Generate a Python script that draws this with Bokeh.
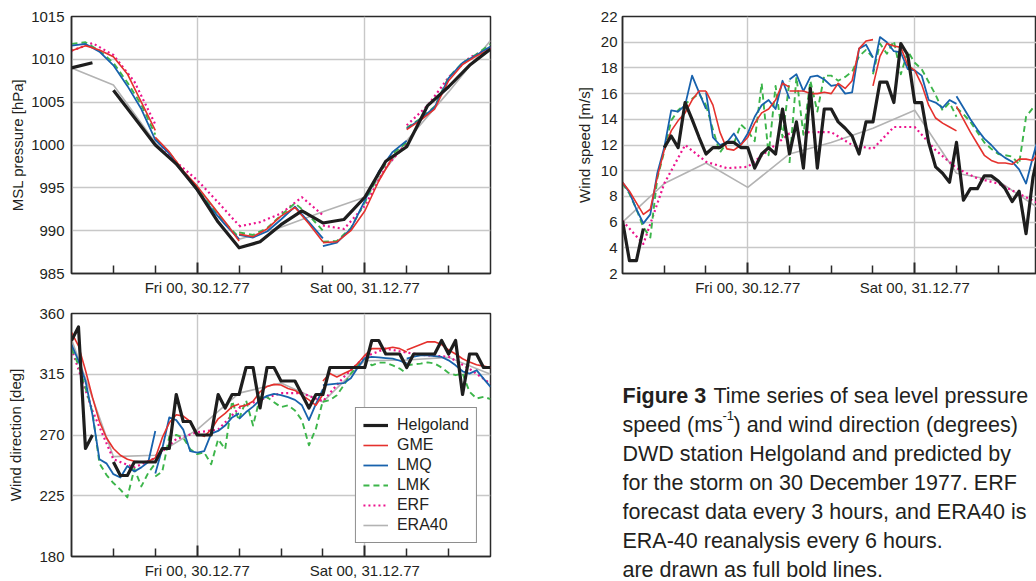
import numpy as np
from bokeh.plotting import figure
from bokeh.models import Range1d, FixedTicker, Legend, LegendItem
from bokeh.layouts import row, column
from bokeh.embed import file_html
from bokeh.resources import INLINE
from bokeh.core.properties import value

FONT = "Liberation Sans"
INK = "#231f20"

# ---------------- data ----------------
# time axis: hours since Thu 29.12.77 06 UTC (0 .. 60)
x_tick_hours = [18, 42]
x_tick_labels = ["Fri 00, 30.12.77", "Sat 00, 31.12.77"]
x_minor_hours = [6, 12, 24, 30, 36, 48, 54]
run_starts = [0, 12, 24, 36, 48]          # start of each forecast run

series_names = ["Helgoland", "GME", "LMQ", "LMK", "ERF", "ERA40"]

# --- MSL pressure [hPa] ---
p_ticks = [985, 990, 995, 1000, 1005, 1010, 1015]
helgoland_p_t = [0, 3, 4.5, 6, 9, 12, 15, 18, 21, 24, 27, 30, 33, 36, 39, 42, 45, 48, 51, 54, 57, 60]
helgoland_p = [1009.0, 1009.6, np.nan, 1006.4, 1003.2, 1000.0, 997.8, 994.8, 991.0, 988.0, 988.7,
               990.7, 992.3, 990.9, 991.3, 993.9, 998.1, 999.8, 1004.6, 1006.8, 1009.3, 1011.2]
era40_p = [1009.0, 1007.0, 1000.3, 995.0, 989.0, 990.4, 992.2, 993.9, 1000.5, 1006.2, 1012.2]
gme_p = [[1011.0, 1011.6, 1011.1, 1010.3, 1008.3, 1005.0, 1001.7],
         [1000.9, 999.2, 997.0, 995.2, 993.1, 991.0, 988.8],
         [989.6, 989.3, 990.2, 991.7, 992.7, 990.8, 988.7],
         [988.6, 988.7, 990.0, 992.3, 995.8, 998.6, 999.8],
         [1001.8, 1002.9, 1004.2, 1007.5, 1009.4, 1010.4, 1011.2]]
lmq_p = [[1011.6, 1011.8, 1010.9, 1009.3, 1006.9, 1004.2, 1000.6],
         [1000.6, 999.0, 996.8, 994.7, 992.6, 990.7, 989.0],
         [989.5, 989.2, 989.9, 991.3, 992.8, 991.0, 989.1],
         [988.2, 988.6, 990.2, 993.5, 996.9, 999.2, 1000.5],
         [1001.9, 1003.0, 1004.4, 1007.8, 1009.6, 1010.5, 1011.5]]
lmk_p = [[1011.8, 1012.0, 1011.0, 1009.6, 1007.3, 1004.7, 1001.2],
         [1000.7, 999.1, 996.9, 994.9, 992.8, 990.9, 989.2],
         [989.8, 989.5, 990.3, 991.8, 993.2, 991.8, 990.0],
         [988.7, 988.8, 990.3, 993.3, 996.6, 999.0, 1000.3],
         [1002.0, 1003.1, 1004.5, 1007.9, 1009.6, 1010.6, 1011.8]]
erf_p = [[1011.0, 1011.9, 1010.5, 1007.4, 1002.4],
         [1000.7, 998.0, 995.9, 993.3, 990.6],
         [990.5, 991.0, 992.0, 993.9, 991.8],
         [990.6, 990.2, 992.9, 997.4, 1000.2],
         [1002.3, 1004.6, 1007.9, 1010.2, 1011.4]]

# --- wind speed [m/s] ---
s_ticks = [2, 4, 6, 8, 10, 12, 14, 16, 18, 20, 22]
helgoland_s_t = [0, 1, 2, 3, 4.5] + list(range(6, 61))
helgoland_s = [6.1, 3.0, 3.0, 5.5, np.nan,
               11.8, 12.7, 11.8, 15.3, 14.0, 12.6, 11.3, 11.8, 11.8, 12.2, 12.2, 11.8, 11.8,
               10.2, 11.3, 11.8, 11.3, 14.8, 11.3, 13.8, 10.2, 16.4, 10.2, 14.8, 14.8,
               13.8, 13.3, 12.7, 11.3, 13.8, 13.8, 16.9, 16.9, 15.3, 19.9, 19.0, 15.3, 15.3,
               12.2, 10.3, 9.8, 9.1, 12.2, 7.7, 8.6, 8.6, 9.6, 9.6, 9.2, 8.6, 7.6, 8.4, 5.1, 9.5, 12.0]
era40_s = [6.0, 9.0, 10.6, 8.7, 11.3, 12.2, 13.3, 14.7, 9.8, 9.2, 7.0]
gme_s = [[9.1, 8.4, 7.5, 6.6, 7.0, 9.5, 11.6, 13.1, 13.9, 14.5, 15.5, 16.2, 16.2],
         [16.2, 15.1, 13.0, 11.7, 11.6, 12.0, 12.6, 13.7, 14.5, 14.8, 15.5, 16.8, 16.5],
         [16.2, 16.2, 16.2, 16.0, 16.0, 16.1, 16.0, 16.8, 16.4, 17.0, 19.5, 20.1, 20.2],
         [16.6, 18.9, 19.9, 19.7, 19.6, 18.2, 17.8, 16.7, 15.1, 14.1, 13.7, 13.4, 13.1],
         [15.0, 14.0, 13.0, 12.1, 11.2, 10.8, 10.6, 10.6, 10.5, 10.9, 10.9, 10.8, 11.6]]
lmq_s = [[9.1, 8.3, 7.0, 5.9, 6.6, 9.8, 11.8, 14.7, 14.6, 15.1, 17.4, 16.1, 14.8],
         [16.1, 12.6, 12.0, 12.2, 12.9, 12.0, 12.9, 14.2, 15.1, 15.5, 14.8, 17.0, 15.6],
         [17.1, 17.5, 16.2, 17.3, 17.4, 17.1, 16.6, 16.7, 16.0, 16.1, 19.5, 19.8, 18.8],
         [17.7, 20.4, 20.0, 19.3, 19.2, 17.9, 17.8, 17.4, 15.5, 15.3, 14.9, 15.5, 15.2],
         [15.8, 14.9, 14.0, 13.2, 12.5, 12.0, 11.4, 11.0, 10.7, 10.1, 9.0, 11.1, 13.0]]
lmk_s = [[9.0, 8.2, 7.0, 5.6, 4.8, 9.4, 11.5, 13.9, 14.7, 15.2, 15.6, 16.0, 15.1],
         [15.1, 13.2, 11.4, 12.2, 12.1, 13.6, 13.1, 12.3, 16.8, 11.2, 16.6, 12.6, 17.0],
         [10.6, 17.3, 12.8, 17.0, 14.6, 17.4, 17.4, 17.0, 17.3, 17.7, 18.9, 19.4, 18.8],
         [17.5, 19.9, 19.1, 20.1, 17.5, 19.3, 18.4, 17.9, 16.9, 15.9, 14.7, 15.3, 14.2],
         [14.9, 14.4, 13.8, 13.0, 12.2, 11.7, 11.3, 11.2, 11.1, 10.5, 14.2, 14.9, 14.7]]
erf_s = [6.1, 4.3, 9.0, 12.0, 10.7, 10.2, 10.3, 11.6, 12.9, 13.0, 13.0,
         12.0, 11.7, 13.4, 13.4, 11.6, 10.2, 9.4, 9.0, 8.2, 7.4]

# --- wind direction [deg] ---
d_ticks = [180, 225, 270, 315, 360]
helgoland_d_t = [0, 1, 2, 3, 4.5] + list(range(6, 61))
helgoland_d = [340, 350, 260, 270, np.nan,
               250, 240, 240, 250, 250, 250, 250, 260, 260, 300, 280, 280, 270, 270, 270,
               300, 290, 300, 300, 320, 320, 290, 320, 320, 310, 310, 310, 300, 290, 300, 300,
               320, 320, 320, 320, 320, 320, 340, 340, 330, 330, 330, 320, 330, 330, 330, 330,
               340, 330, 340, 300, 330, 330, 320, 320]
era40_d = [341, 254, 255, 274, 301, 308.5, 294.5, 325, 325.5, 327.5, 315]
gme_d = [[346, 336, 318, 298, 280, 268, 260, 255, 252, 250.5, 250, 250.5, 253],
         [253, 268, 279, 285, 284, 280, 271, 269, 274, 282, 286, 291, 293],
         [291, 292, 295, 302, 306, 307.5, 307, 304.5, 303, 299.5, 296, 292, 300],
         [310, 315.5, 313, 315.5, 318, 323, 329, 334, 334, 334, 335, 334, 331.5],
         [333, 335, 337, 339, 339, 337, 333, 330, 326.5, 324, 322, 321, 320]]
lmq_d = [[337, 325, 310, 285, 252, 249, 241, 238.5, 247, 243, 246, 250, 273],
         [241.5, 260, 283, 281, 274, 258, 257, 258, 271, 273, 277, 283, 286],
         [282, 287, 291, 296, 299, 300.5, 299.5, 298, 296, 292, 281, 293, 304],
         [307, 307.5, 308, 308.5, 312, 320, 327, 327.8, 327.5, 327, 326.6, 325, 323],
         [326.6, 328, 329, 329, 328.5, 327.8, 325.3, 321.6, 317.2, 315.5, 318, 311.8, 305.7]]
lmk_d = [[334, 322, 305, 287, 249, 240.5, 234.4, 229.5, 223.8, 245, 231.9, 242, 249],
         [239.2, 242.9, 268.7, 270, 268, 259.5, 255.8, 257.1, 248.4, 266.8, 259.5, 295.1, 280.3],
         [282, 295.6, 277, 298, 298, 294.3, 290.7, 292, 288.2, 280.8, 262.4, 274.7, 295.6],
         [294.6, 295.8, 299.5, 306.9, 315.5, 321.6, 326.6, 321.6, 323.6, 323.6, 321.6, 319.2, 315.5],
         [321.6, 322.3, 322.9, 323.8, 323, 320, 316, 314.3, 315.5, 302, 297, 298.3, 296.6]]
erf_d = [334, 288, 252, 246, 253, 267, 272, 274, 290, 296, 301,
         301, 295, 313, 328, 334, 331, 329, 328, 319, 308]

# --- caption (the part that is visible in the picture) ---
caption_bold = "Figure 3"
caption_line1 = "Time series of sea level pressure"
caption_line2 = ["speed (ms", "-1", ") and wind direction (degrees)"]
caption_rest = ["DWD station Helgoland and predicted by",
                "for the storm on 30 December 1977. ERF",
                "forecast data every 3 hours, and ERA40 is",
                "ERA-40 reanalysis every 6 hours.",
                "are drawn as full bold lines."]

# ---------------- helpers ----------------
STYLES = {
    "Helgoland": dict(line_color="#1e1e1e", line_width=3.2),
    "GME": dict(line_color="#e5312d", line_width=1.6),
    "LMQ": dict(line_color="#1862ad", line_width=1.8),
    "LMK": dict(line_color="#3cb54a", line_width=1.9, line_dash="6 4"),
    "ERF": dict(line_color="#ec138d", line_width=2.2, line_dash="2 3"),
    "ERA40": dict(line_color="#b3b3b3", line_width=1.6),
}


def segmented(step, segs):
    t, v = [], []
    for k, (s, vals) in enumerate(zip(run_starts, segs)):
        if k:
            t.append(np.nan)
            v.append(np.nan)
        t.extend(s + step * i for i in range(len(vals)))
        v.extend(vals)
    return np.array(t, float), np.array(v, float)


def regular(step, vals):
    return np.arange(len(vals)) * step, np.array(vals, float)


def panel(width, height, mb, x_end, y_rng, y_ticks, ylabel, lab_standoff, tick_standoff):
    p = figure(width=width, height=height, x_range=Range1d(0, x_end),
               y_range=Range1d(*y_rng), toolbar_location=None, output_backend="svg",
               title=None,
               min_border_left=mb[0], min_border_right=mb[1],
               min_border_top=mb[2], min_border_bottom=mb[3])
    p.outline_line_color = "#2a2a2a"
    p.outline_line_width = 1.5
    xa = p.xaxis[0]
    xa.ticker = FixedTicker(ticks=x_tick_hours, minor_ticks=x_minor_hours)
    xa.major_label_overrides = {h: l for h, l in zip(x_tick_hours, x_tick_labels)}
    xa.major_tick_in = 11
    xa.major_tick_out = 0
    xa.major_tick_line_width = 2
    xa.minor_tick_in = 8
    xa.minor_tick_out = 0
    xa.minor_tick_line_width = 1.5
    xa.major_label_standoff = 5
    ya = p.yaxis[0]
    ya.ticker = FixedTicker(ticks=y_ticks)
    ya.major_tick_in = 0
    ya.major_tick_out = 0
    ya.minor_tick_in = 0
    ya.minor_tick_out = 0
    ya.major_label_standoff = tick_standoff
    ya.axis_label = ylabel
    ya.axis_label_standoff = lab_standoff
    for ax in (xa, ya):
        ax.axis_line_color = "#2a2a2a"
        ax.axis_line_width = 1.5
        ax.major_tick_line_color = "#2a2a2a"
        ax.minor_tick_line_color = "#2a2a2a"
        ax.major_label_text_font = FONT
        ax.major_label_text_font_size = "15px"
        ax.major_label_text_color = INK
        ax.axis_label_text_font = FONT
        ax.axis_label_text_font_size = "15px"
        ax.axis_label_text_font_style = "normal"
        ax.axis_label_text_color = INK
    p.xgrid[0].ticker = FixedTicker(ticks=x_tick_hours)
    p.ygrid[0].ticker = FixedTicker(ticks=y_ticks)
    for g in (p.xgrid[0], p.ygrid[0]):
        g.grid_line_color = "#c8c8c8"
        g.grid_line_width = 1.4
    return p


def draw(p, data):
    rends = {}
    for name in ["ERA40", "ERF", "LMK", "LMQ", "GME", "Helgoland"]:
        t, v = data[name]
        rends[name] = p.line(t, v, line_join="round", **STYLES[name])
    return rends


# ---------------- panels (page origin at top-left) ----------------
W1, W2 = 495, 541            # left column / right column widths
H1, H2 = 301, 280            # upper / lower row heights
LOW_TOP = 12                 # top border of the lower row
S_FRAME_LEFT = 127
S_X_END = 59.5               # visible part of the wind speed time axis

fp = panel(W1, H1, (71, 5, 16, 28), 60, (985, 1015), p_ticks, "MSL pressure [hPa]", 2, 7)
draw(fp, {
    "Helgoland": (np.array(helgoland_p_t, float), np.array(helgoland_p, float)),
    "GME": segmented(2, gme_p), "LMQ": segmented(2, lmq_p), "LMK": segmented(2, lmk_p),
    "ERF": segmented(3, erf_p), "ERA40": regular(6, era40_p)})

fd = panel(W1, H2, (71, 5, LOW_TOP, 24), 60, (180, 360), d_ticks, "Wind direction [deg]", 12, 7)
rd = draw(fd, {
    "Helgoland": (np.array(helgoland_d_t, float), np.array(helgoland_d, float)),
    "GME": segmented(1, gme_d), "LMQ": segmented(1, lmq_d), "LMK": segmented(1, lmk_d),
    "ERF": regular(3, erf_d), "ERA40": regular(6, era40_d)})

legend = Legend(items=[LegendItem(label=n, renderers=[rd[n]]) for n in series_names],
                location="bottom_right")
legend.border_line_color = "#1e1e1e"
legend.border_line_width = 1.3
legend.background_fill_color = "white"
legend.background_fill_alpha = 1.0
legend.padding = 7
legend.spacing = 0
legend.margin = 13
legend.glyph_width = 25
legend.glyph_height = 20
legend.label_height = 20
legend.label_standoff = 9
legend.label_text_font = FONT
legend.label_text_font_size = "16px"
legend.label_text_color = INK
fd.add_layout(legend)

fs = panel(W2, H1, (S_FRAME_LEFT, 0, 16, 28), S_X_END, (2, 22), s_ticks,
           "Wind speed [m/s]", 5, 5)
draw(fs, {
    "Helgoland": (np.array(helgoland_s_t, float), np.array(helgoland_s, float)),
    "GME": segmented(1, gme_s), "LMQ": segmented(1, lmq_s), "LMK": segmented(1, lmk_s),
    "ERF": regular(3, erf_s), "ERA40": regular(6, era40_s)})

# ---------------- caption figure (frame aligned with the neighbouring frames) ----------------
CAP_W = W2 - S_FRAME_LEFT
CAP_H = H2 - LOW_TOP
cap = figure(width=W2, height=H2, x_range=Range1d(0, CAP_W), y_range=Range1d(CAP_H, 0),
             x_axis_type=None, y_axis_type=None, toolbar_location=None, title=None,
             output_backend="svg", min_border_left=S_FRAME_LEFT, min_border_right=0,
             min_border_top=LOW_TOP, min_border_bottom=0)
cap.outline_line_color = None
cap.grid.visible = False

Y0, DY = 82, 29.15           # vertical centres of the caption lines
common = dict(text_font=value(FONT), text_color=INK, text_baseline="middle",
              text_align="left")
cap.text(x=[0], y=[Y0], text=[caption_bold], text_font_size="21.5px",
         text_font_style="bold", **common)
cap.text(x=[91], y=[Y0], text=[caption_line1], text_font_size="21.5px", **common)
cap.text(x=[0], y=[Y0 + DY], text=[caption_line2[0]], text_font_size="21.5px", **common)
cap.text(x=[100], y=[Y0 + DY - 9], text=[caption_line2[1]], text_font_size="13px", **common)
cap.text(x=[111], y=[Y0 + DY], text=[caption_line2[2]], text_font_size="21.5px", **common)
cap.text(x=[0] * len(caption_rest), y=[Y0 + DY * (i + 2) for i in range(len(caption_rest))],
         text=caption_rest, text_font_size="21.5px", **common)

layout = row(column(fp, fd), column(fs, cap))
open("out.html", "w").write(file_html(layout, INLINE))
